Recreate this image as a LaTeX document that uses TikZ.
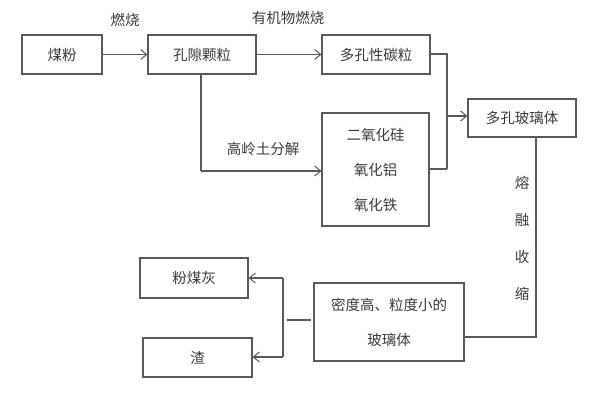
\documentclass[tikz,border=0pt]{standalone}
\usepackage{fontspec}
\setmainfont{Noto Sans CJK SC}
\usetikzlibrary{arrows.meta,calc}
\begin{document}
\begin{tikzpicture}[x=1pt,y=-1pt,
  box/.style={draw=linegray,line width=1.2pt,inner sep=0pt,text=txtgray,
    font=\fontsize{14.5}{35}\selectfont,align=center},
  lab/.style={text=txtgray,inner sep=0pt,font=\fontsize{14.5}{18}\selectfont},
  conn/.style={draw=linegray,line width=1.2pt},
  arr/.style={conn,-{Straight Barb[length=6pt,width=10pt,line width=1pt]}}]
\definecolor{linegray}{HTML}{5A5A5A}
\definecolor{txtgray}{HTML}{3A3A3A}
\useasboundingbox (0,0) rectangle (600,401);
\node[box,minimum width=80pt,minimum height=39pt] (coal) at (62,54.5) {煤粉};
\node[box,minimum width=108pt,minimum height=39pt] (pore) at (202,54.5) {孔隙颗粒};
\node[box,minimum width=108pt,minimum height=39pt] (carbon) at (376,54.5) {多孔性碳粒};
\node[box,minimum width=107pt,minimum height=113pt] (oxide) at (375.5,169.5) {二氧化硅\\氧化铝\\氧化铁};
\node[box,minimum width=108pt,minimum height=38pt] (glass) at (522,118) {多孔玻璃体};
\node[box,minimum width=150pt,minimum height=78pt] (dense) at (389,322) {密度高、粒度小的\\玻璃体};
\node[box,minimum width=108pt,minimum height=40pt] (ash) at (194,278) {粉煤灰};
\node[box,minimum width=109pt,minimum height=39pt] (slag) at (197.5,357.5) {渣};
\node[lab] (l1) at (125,20) {燃烧};
\node[lab] (l2) at (288,18) {有机物燃烧};
\node[lab] (l3) at (263,149) {高岭土分解};
\node[lab,align=center,font=\fontsize{14.5}{37}\selectfont] (l4) at (522,238) {熔\\融\\收\\缩};
\coordinate (pd) at (201,171);
\coordinate (jc) at (447,54);
\coordinate (jo) at (447,169);
\coordinate (jg) at (447,116);
\coordinate (gd) at (536,337);
\coordinate (sa) at (287,320);
\coordinate (sb) at (311,320);
\coordinate (va) at (283,278);
\coordinate (vb) at (283,357);
\draw[arr] (coal.east) -- (pore.west);
\draw[arr] (pore.east) -- (carbon.west);
\draw[conn] (pore.south -| pd) -- (pd);
\draw[arr] (pd) -- (oxide.west |- pd);
\draw[conn] (carbon.east |- jc) -- (jc) -- (jo);
\draw[conn] (oxide.east |- jo) -- (jo);
\draw[arr] (jg) -- (glass.west |- jg);
\draw[conn] (glass.south -| gd) -- (gd) -- (dense.east |- gd);
\draw[conn] (sa) -- (sb);
\draw[conn] (va) -- (vb);
\draw[arr] (va) -- (ash.east |- va);
\draw[arr] (vb) -- (slag.east |- vb);
\end{tikzpicture}
\end{document}
